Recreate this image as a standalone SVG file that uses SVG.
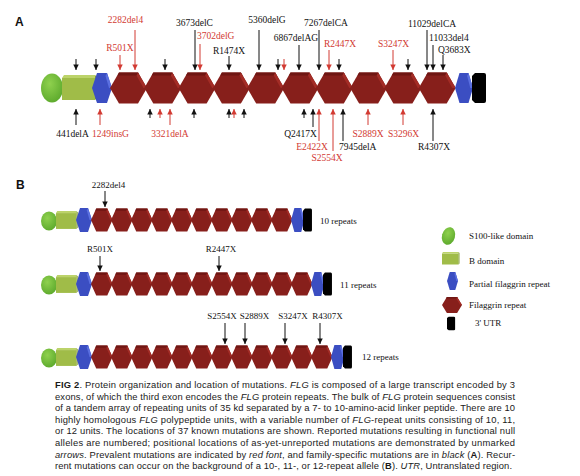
<svg xmlns="http://www.w3.org/2000/svg" xmlns:xlink="http://www.w3.org/1999/xlink" width="580" height="476" viewBox="0 0 580 476">
<style>
.lb{font-family:"Liberation Serif","Times New Roman",serif;font-size:9.5px;fill:#111}
.lr{font-family:"Liberation Serif","Times New Roman",serif;font-size:9.5px;fill:#d23a32}
.lbB{font-family:"Liberation Serif","Times New Roman",serif;font-size:9px;fill:#111}
.pl{font-family:"Liberation Sans",Arial,sans-serif;font-size:12px;font-weight:bold;fill:#111}
.cap{font-family:"Liberation Sans",Arial,sans-serif;font-size:9.4px;fill:#1a1a1a}
.ab{stroke:#111;stroke-width:1;fill:none;marker-end:url(#mb)}
.ar{stroke:#d23a32;stroke-width:1;fill:none;marker-end:url(#mr)}
</style>
<defs>
<marker id="mb" viewBox="0 0 6 6" refX="6" refY="3" markerWidth="6" markerHeight="5.5" markerUnits="userSpaceOnUse" orient="auto"><path d="M0,0 L6,3 L0,6 z" fill="#111"/></marker>
<marker id="mr" viewBox="0 0 6 6" refX="6" refY="3" markerWidth="6" markerHeight="5.5" markerUnits="userSpaceOnUse" orient="auto"><path d="M0,0 L6,3 L0,6 z" fill="#d23a32"/></marker>
<radialGradient id="gg" cx="0.4" cy="0.35" r="0.7"><stop offset="0" stop-color="#8fd14e"/><stop offset="1" stop-color="#5ca92c"/></radialGradient>
<g id="hex">
<polygon points="0,0 9,-15.5 28,-15.5 37,0 28,15.5 9,15.5" fill="#871f1b"/>
<polygon points="9,-15.5 28,-15.5 29.6,-12.5 7.4,-12.5" fill="#6f1613"/>
<polygon points="28,-15.5 37,0 33.5,0 26.5,-12.5" fill="#a32c26"/>
</g>
<g id="bhex">
<polygon points="0,0 5,-15 15,-15 20,0 15,15 5,15" fill="#3b4ec2"/>
<polygon points="15,-15 20,0 17,0 13.5,-12" fill="#5a6fe0"/>
</g>
<g id="utr">
<path d="M3,-15 H12 Q14,-15 14,-13 V13 Q14,15 12,15 H3 L0,12 V-12 Z" fill="#000"/>
</g>
<g id="bdom">
<rect x="0" y="-11" width="33" height="22" fill="#a0bc48"/>
<polygon points="0,-11 2,-14 33,-14 33,-11" fill="#bcd36a"/>
<polygon points="33,-14 35,-12 35,9 33,11" fill="#86a036"/>
</g>
</defs>
<rect width="580" height="476" fill="#fff"/>

<text class="pl" x="15" y="26">A</text>
<text class="pl" x="16" y="189">B</text>

<!-- Panel A protein -->
<g id="protein-A">
<ellipse cx="52" cy="88" rx="11" ry="14.5" fill="url(#gg)"/>
<use href="#bdom" transform="translate(62,89)"/>
<use href="#bhex" transform="translate(92,88)"/>
<use href="#hex" transform="translate(110,88)"/>
<use href="#hex" transform="translate(144.3,88)"/>
<use href="#hex" transform="translate(178.6,88)"/>
<use href="#hex" transform="translate(212.9,88)"/>
<use href="#hex" transform="translate(247.2,88)"/>
<use href="#hex" transform="translate(281.5,88)"/>
<use href="#hex" transform="translate(315.8,88)"/>
<use href="#hex" transform="translate(350.1,88)"/>
<use href="#hex" transform="translate(384.4,88)"/>
<use href="#hex" transform="translate(418.7,88)"/>
<use href="#bhex" transform="translate(455,88) scale(0.9,1)"/>
<use href="#utr" transform="translate(472,88)"/>
</g>

<g id="connectors">
<!-- Panel A top arrows -->
<line class="ab" x1="76" y1="59" x2="76" y2="70"/>
<line class="ab" x1="96" y1="59" x2="96" y2="70"/>
<line class="ar" x1="120" y1="55" x2="120" y2="70"/>
<line class="ar" x1="135" y1="30" x2="135" y2="70"/>
<line class="ab" x1="165" y1="59" x2="165" y2="70"/>
<line class="ab" x1="195" y1="30" x2="195" y2="70"/>
<line class="ar" x1="200" y1="44" x2="200" y2="70"/>
<line class="ab" x1="229" y1="56" x2="229" y2="70"/>
<line class="ab" x1="259" y1="30" x2="259" y2="70"/>
<line class="ab" x1="278" y1="59" x2="278" y2="70"/>
<line class="ar" x1="284" y1="59" x2="284" y2="70"/>
<line class="ab" x1="299" y1="45" x2="299" y2="70"/>
<line class="ab" x1="319" y1="30" x2="319" y2="70"/>
<line class="ar" x1="329" y1="50" x2="329" y2="70"/>
<line class="ab" x1="339" y1="59" x2="339" y2="70"/>
<line class="ar" x1="393" y1="50" x2="393" y2="70"/>
<line class="ab" x1="408" y1="59" x2="408" y2="70"/>
<line class="ab" x1="427" y1="30" x2="427" y2="70"/>
<line class="ab" x1="433" y1="45" x2="433" y2="70"/>
<line class="ab" x1="443" y1="55" x2="443" y2="70"/>
<!-- Panel A bottom arrows -->
<line class="ab" x1="76" y1="125" x2="76" y2="109"/>
<line class="ar" x1="100" y1="125" x2="100" y2="109"/>
<line class="ab" x1="150" y1="118" x2="150" y2="109"/>
<line class="ar" x1="160" y1="118" x2="160" y2="109"/>
<line class="ar" x1="170" y1="125" x2="170" y2="109"/>
<line class="ab" x1="194" y1="118" x2="194" y2="109"/>
<line class="ab" x1="229" y1="118" x2="229" y2="109"/>
<line class="ar" x1="234" y1="118" x2="234" y2="109"/>
<line class="ab" x1="244" y1="118" x2="244" y2="109"/>
<line class="ab" x1="304" y1="118" x2="304" y2="109"/>
<line class="ab" x1="313" y1="127" x2="313" y2="109"/>
<line class="ar" x1="319" y1="141" x2="319" y2="109"/>
<line class="ar" x1="333" y1="151" x2="333" y2="109"/>
<line class="ab" x1="343" y1="141" x2="343" y2="109"/>
<line class="ar" x1="368" y1="125" x2="368" y2="109"/>
<line class="ar" x1="403" y1="125" x2="403" y2="109"/>
<line class="ab" x1="433" y1="141" x2="433" y2="109"/>
<!-- Panel B arrows -->
<line class="ab" x1="105" y1="191" x2="105" y2="207"/>
<line class="ab" x1="100" y1="256" x2="100" y2="271"/>
<line class="ab" x1="219" y1="256" x2="219" y2="271"/>
<line class="ab" x1="225" y1="323" x2="225" y2="344"/>
<line class="ab" x1="245" y1="323" x2="245" y2="344"/>
<line class="ab" x1="285" y1="323" x2="285" y2="344"/>
<line class="ab" x1="320" y1="323" x2="320" y2="344"/>
</g>

<g id="labels-A">
<text class="lr" x="125.5" y="23" text-anchor="middle">2282del4</text>
<text class="lr" x="120" y="51" text-anchor="middle">R501X</text>
<text class="lb" x="194.5" y="26" text-anchor="middle">3673delC</text>
<text class="lr" x="197" y="39">3702delG</text>
<text class="lb" x="229" y="54" text-anchor="middle">R1474X</text>
<text class="lb" x="267" y="23" text-anchor="middle">5360delG</text>
<text class="lb" x="296" y="41" text-anchor="middle">6867delAG</text>
<text class="lb" x="326" y="26" text-anchor="middle">7267delCA</text>
<text class="lr" x="340" y="46.5" text-anchor="middle">R2447X</text>
<text class="lr" x="393.5" y="46.5" text-anchor="middle">S3247X</text>
<text class="lb" x="432" y="26.5" text-anchor="middle">11029delCA</text>
<text class="lb" x="429" y="41">11033del4</text>
<text class="lb" x="438" y="52.5">Q3683X</text>
<text class="lb" x="72.5" y="136.5" text-anchor="middle">441delA</text>
<text class="lr" x="110.5" y="136.5" text-anchor="middle">1249insG</text>
<text class="lr" x="170" y="136.5" text-anchor="middle">3321delA</text>
<text class="lb" x="300.5" y="136.5" text-anchor="middle">Q2417X</text>
<text class="lr" x="312" y="150" text-anchor="middle">E2422X</text>
<text class="lr" x="327" y="160.5" text-anchor="middle">S2554X</text>
<text class="lb" x="339" y="150">7945delA</text>
<text class="lr" x="368" y="136.5" text-anchor="middle">S2889X</text>
<text class="lr" x="403.5" y="136.5" text-anchor="middle">S3296X</text>
<text class="lb" x="434" y="150" text-anchor="middle">R4307X</text>
</g>

<!-- Panel B rows -->
<g id="row-10">
<ellipse cx="49" cy="221" rx="8" ry="9.5" fill="url(#gg)"/>
<use href="#bdom" transform="translate(56,221) scale(0.62,0.72)"/>
<use href="#bhex" transform="translate(76,220) scale(0.8,0.8)"/>
<use href="#hex" transform="translate(91,220) scale(0.581,0.742)"/>
<use href="#hex" transform="translate(111,220) scale(0.581,0.742)"/>
<use href="#hex" transform="translate(131,220) scale(0.581,0.742)"/>
<use href="#hex" transform="translate(151,220) scale(0.581,0.742)"/>
<use href="#hex" transform="translate(171,220) scale(0.581,0.742)"/>
<use href="#hex" transform="translate(191,220) scale(0.581,0.742)"/>
<use href="#hex" transform="translate(211,220) scale(0.581,0.742)"/>
<use href="#hex" transform="translate(231,220) scale(0.581,0.742)"/>
<use href="#hex" transform="translate(251,220) scale(0.581,0.742)"/>
<use href="#hex" transform="translate(271,220) scale(0.581,0.742)"/>
<use href="#bhex" transform="translate(291,220) scale(0.68,0.8)"/>
<use href="#utr" transform="translate(303,220) scale(0.64,0.77)"/>
<text class="lbB" x="320" y="224">10 repeats</text>
<text class="lbB" x="108.5" y="188" text-anchor="middle">2282del4</text>
</g>

<g id="row-11">
<ellipse cx="49" cy="285" rx="8" ry="9.5" fill="url(#gg)"/>
<use href="#bdom" transform="translate(56,285) scale(0.62,0.72)"/>
<use href="#bhex" transform="translate(76,284) scale(0.8,0.8)"/>
<use href="#hex" transform="translate(91,284) scale(0.581,0.742)"/>
<use href="#hex" transform="translate(111,284) scale(0.581,0.742)"/>
<use href="#hex" transform="translate(131,284) scale(0.581,0.742)"/>
<use href="#hex" transform="translate(151,284) scale(0.581,0.742)"/>
<use href="#hex" transform="translate(171,284) scale(0.581,0.742)"/>
<use href="#hex" transform="translate(191,284) scale(0.581,0.742)"/>
<use href="#hex" transform="translate(211,284) scale(0.581,0.742)"/>
<use href="#hex" transform="translate(231,284) scale(0.581,0.742)"/>
<use href="#hex" transform="translate(251,284) scale(0.581,0.742)"/>
<use href="#hex" transform="translate(271,284) scale(0.581,0.742)"/>
<use href="#hex" transform="translate(291,284) scale(0.581,0.742)"/>
<use href="#bhex" transform="translate(311,284) scale(0.68,0.8)"/>
<use href="#utr" transform="translate(323,284) scale(0.64,0.77)"/>
<text class="lbB" x="340" y="288">11 repeats</text>
<text class="lbB" x="100" y="252" text-anchor="middle">R501X</text>
<text class="lbB" x="221" y="252" text-anchor="middle">R2447X</text>
</g>

<g id="row-12">
<ellipse cx="49" cy="358" rx="8" ry="9.5" fill="url(#gg)"/>
<use href="#bdom" transform="translate(56,358) scale(0.62,0.72)"/>
<use href="#bhex" transform="translate(76,357) scale(0.8,0.8)"/>
<use href="#hex" transform="translate(91,357) scale(0.581,0.742)"/>
<use href="#hex" transform="translate(111,357) scale(0.581,0.742)"/>
<use href="#hex" transform="translate(131,357) scale(0.581,0.742)"/>
<use href="#hex" transform="translate(151,357) scale(0.581,0.742)"/>
<use href="#hex" transform="translate(171,357) scale(0.581,0.742)"/>
<use href="#hex" transform="translate(191,357) scale(0.581,0.742)"/>
<use href="#hex" transform="translate(211,357) scale(0.581,0.742)"/>
<use href="#hex" transform="translate(231,357) scale(0.581,0.742)"/>
<use href="#hex" transform="translate(251,357) scale(0.581,0.742)"/>
<use href="#hex" transform="translate(271,357) scale(0.581,0.742)"/>
<use href="#hex" transform="translate(291,357) scale(0.581,0.742)"/>
<use href="#hex" transform="translate(311,357) scale(0.581,0.742)"/>
<use href="#bhex" transform="translate(331,357) scale(0.68,0.8)"/>
<use href="#utr" transform="translate(343,357) scale(0.64,0.77)"/>
<text class="lbB" x="362" y="360">12 repeats</text>
<text class="lbB" x="222" y="319" text-anchor="middle">S2554X</text>
<text class="lbB" x="254.5" y="319" text-anchor="middle">S2889X</text>
<text class="lbB" x="293" y="319" text-anchor="middle">S3247X</text>
<text class="lbB" x="327.5" y="319" text-anchor="middle">R4307X</text>
</g>

<!-- Legend -->
<g id="legend">
<ellipse cx="448.5" cy="236" rx="6.5" ry="9" transform="rotate(15 448.5 236)" fill="url(#gg)"/>
<use href="#bdom" transform="translate(442,259) scale(0.5,0.5)"/>
<use href="#bhex" transform="translate(447,281) scale(0.55,0.6)"/>
<use href="#hex" transform="translate(442,305) scale(0.54,0.52)"/>
<use href="#utr" transform="translate(447,323.5) scale(0.58,0.45)"/>
<text class="lbB" x="469" y="239">S100-like domain</text>
<text class="lbB" x="469" y="264">B domain</text>
<text class="lbB" x="469" y="287">Partial filaggrin repeat</text>
<text class="lbB" x="469" y="308">Filaggrin repeat</text>
<text class="lbB" x="475" y="326">3' UTR</text>
</g>

<!-- Caption -->
<g id="caption" class="cap">
<text x="55" y="388" textLength="460" lengthAdjust="spacing"><tspan font-weight="bold">FIG 2</tspan>.  Protein organization and location of mutations. <tspan font-style="italic">FLG</tspan> is composed of a large transcript encoded by 3</text>
<text x="55" y="399.6" textLength="460" lengthAdjust="spacing">exons, of which the third exon encodes the <tspan font-style="italic">FLG</tspan> protein repeats. The bulk of <tspan font-style="italic">FLG</tspan> protein sequences consist</text>
<text x="55" y="411.2" textLength="460" lengthAdjust="spacing">of a tandem array of repeating units of 35 kd separated by a 7- to 10-amino-acid linker peptide. There are 10</text>
<text x="55" y="422.8" textLength="460" lengthAdjust="spacing">highly homologous <tspan font-style="italic">FLG</tspan> polypeptide units, with a variable number of <tspan font-style="italic">FLG</tspan>-repeat units consisting of 10, 11,</text>
<text x="55" y="434.4" textLength="460" lengthAdjust="spacing">or 12 units. The locations of 37 known mutations are shown. Reported mutations resulting in functional null</text>
<text x="55" y="446" textLength="460" lengthAdjust="spacing">alleles are numbered; positional locations of as-yet-unreported mutations are demonstrated by unmarked</text>
<text x="55" y="457.6" textLength="460" lengthAdjust="spacing"><tspan font-style="italic">arrows</tspan>. Prevalent mutations are indicated by <tspan font-style="italic">red font</tspan>, and family-specific mutations are in <tspan font-style="italic">black</tspan> (<tspan font-weight="bold">A</tspan>). Recur-</text>
<text x="55" y="469.2" textLength="457" lengthAdjust="spacing">rent mutations can occur on the background of a 10-, 11-, or 12-repeat allele (<tspan font-weight="bold">B</tspan>). <tspan font-style="italic">UTR</tspan>, Untranslated region.</text>
</g>
</svg>
